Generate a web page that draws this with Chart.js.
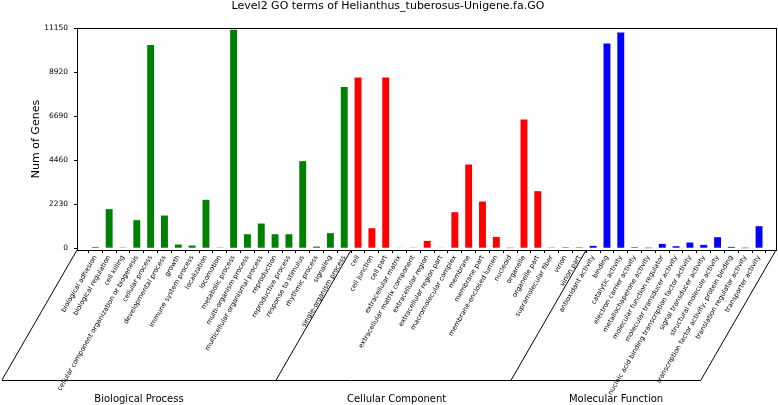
<!DOCTYPE html>
<html>
<head>
<meta charset="utf-8">
<script src="https://cdn.jsdelivr.net/npm/chart.js@4"></script>
<style>
  body { margin: 0; background: #fff; }
  #wrap { width: 778px; height: 405px; }
</style>
</head>
<body>
<div id="wrap"><canvas id="myChart"></canvas></div>
<script>
// data
const bpLabels = ['biological adhesion', 'biological regulation', 'cell killing', 'cellular component organization or biogenesis',
  'cellular process', 'developmental process', 'growth', 'immune system process', 'localization', 'locomotion',
  'metabolic process', 'multi-organism process', 'multicellular organismal process', 'reproduction', 'reproductive process',
  'response to stimulus', 'rhythmic process', 'signaling', 'single-organism process'];
const bpValues = [60, 1980, 10, 1420, 10290, 1655, 186, 135, 2450, 10, 11063, 709, 1250, 709, 709, 4408, 84, 760, 8158];

const ccLabels = ['cell', 'cell junction', 'cell part', 'extracellular matrix', 'extracellular matrix component',
  'extracellular region', 'extracellular region part', 'macromolecular complex', 'membrane', 'membrane part',
  'membrane-enclosed lumen', 'nucleoid', 'organelle', 'organelle part', 'supramolecular fiber', 'virion', 'virion part'];
const ccValues = [8648, 1013, 8648, 30, 15, 372, 20, 1824, 4239, 2365, 574, 5, 6520, 2888, 40, 50, 50];

const mfLabels = ['antioxidant activity', 'binding', 'catalytic activity', 'electron carrier activity',
  'metallochaperone activity', 'molecular function regulator', 'molecular transducer activity',
  'nucleic acid binding transcription factor activity', 'signal transducer activity', 'structural molecule activity',
  'transcription factor activity, protein binding', 'translation regulator activity', 'transporter activity'];
const mfValues = [118, 10370, 10928, 50, 3, 220, 101, 287, 169, 557, 68, 3, 1115];

const groupNames = ['Biological Process', 'Cellular Component', 'Molecular Function'];
const groupColors = ['#008000', '#ff0000', '#0000ff'];
const yTicks = [0, 2230, 4460, 6690, 8920, 11150];

const groups = [bpLabels, ccLabels, mfLabels];
const labels = bpLabels.concat(ccLabels, mfLabels);
const values = bpValues.concat(ccValues, mfValues);
const colors = [];
groups.forEach((g, i) => g.forEach(() => colors.push(groupColors[i])));

const FONT = 'DejaVu Sans';

// frame + slanted skirt under the x axis with group names
const goSkirt = {
  id: 'goSkirt',
  afterDraw(chart) {
    const ctx = chart.ctx;
    const a = chart.chartArea;
    const xs = chart.scales.x;
    const depth = 130;
    const shear = depth / Math.tan(60 * Math.PI / 180);
    const y0 = a.bottom, y1 = a.bottom + depth;
    const nameShift = [0, 3, 10];

    const edges = [a.left];
    let n = 0;
    groups.forEach((g, i) => {
      n += g.length;
      if (i < groups.length - 1) edges.push(xs.getPixelForValue(n - 0.5));
    });
    edges.push(a.right);

    ctx.save();
    ctx.strokeStyle = '#000';
    ctx.lineWidth = 1;
    ctx.strokeRect(a.left + 0.5, a.top + 0.5, a.right - a.left, a.bottom - a.top);
    ctx.beginPath();
    edges.forEach(x => {
      ctx.moveTo(x, y0);
      ctx.lineTo(x - shear, y1);
    });
    ctx.moveTo(a.left - shear, y1 + 0.5);
    ctx.lineTo(a.right - shear, y1 + 0.5);
    ctx.stroke();

    ctx.fillStyle = '#000';
    ctx.font = '10px "' + FONT + '"';
    ctx.textAlign = 'center';
    ctx.textBaseline = 'middle';
    groupNames.forEach((name, i) => {
      const mid = (edges[i] + edges[i + 1]) / 2 - shear + nameShift[i];
      ctx.fillText(name, mid, y1 + 19);
    });
    ctx.restore();
  }
};

const data = {
  datasets: [{
    data: values.map((v, i) => ({ x: i, y: v })),
    backgroundColor: colors,
    borderWidth: 0,
    categoryPercentage: 1,
    barPercentage: 0.5
  }]
};

const config = {
  type: 'bar',
  data,
  options: {
    responsive: true,
    maintainAspectRatio: false,
    animation: false,
    layout: { padding: { top: 0, right: 2, left: 0, bottom: 0 } },
    plugins: {
      legend: { display: false },
      tooltip: { enabled: false },
      title: {
        display: true,
        text: 'Level2 GO terms of Helianthus_tuberosus-Unigene.fa.GO',
        color: '#000',
        font: { family: FONT, size: 11, weight: 'normal' },
        padding: { top: 0, bottom: 14.8 }
      }
    },
    scales: {
      x: {
        type: 'linear',
        min: -0.81,
        max: 48.71,
        border: { display: false },
        grid: { display: true, drawOnChartArea: false, tickLength: 3, color: '#000' },
        afterBuildTicks(scale) { scale.ticks = labels.map((_, i) => ({ value: i })); },
        ticks: {
          autoSkip: false,
          minRotation: 60,
          maxRotation: 60,
          padding: 1,
          color: '#000',
          font: { family: FONT, size: 6.7 },
          callback: v => labels[v]
        },
        afterFit(scale) { scale.height = 155; }
      },
      y: {
        min: -90,
        max: 11150,
        border: { display: false },
        grid: { display: true, drawOnChartArea: false, tickLength: 3, color: '#000' },
        afterBuildTicks(scale) { scale.ticks = yTicks.map(v => ({ value: v })); },
        ticks: {
          color: '#000',
          padding: 6,
          font: { family: FONT, size: 7.5 },
          callback: v => String(v)
        },
        title: {
          display: true,
          text: 'Num of Genes',
          color: '#000',
          font: { family: FONT, size: 11 },
          padding: { top: 30 }
        },
        afterFit(scale) { scale.width = 77; }
      }
    }
  },
  plugins: [goSkirt]
};

const myChart = new Chart(document.getElementById('myChart'), config);
</script>
</body>
</html>
